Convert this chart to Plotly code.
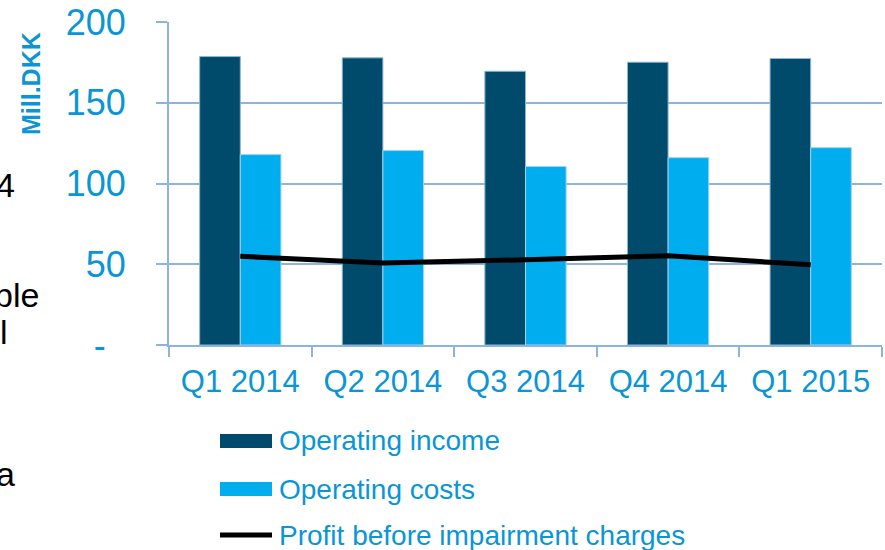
import plotly.graph_objects as go

categories = ["Q1 2014", "Q2 2014", "Q3 2014", "Q4 2014", "Q1 2015"]
operating_income = [178.6, 177.8, 169.5, 175.1, 177.4]
operating_costs = [117.9, 120.4, 110.5, 116.0, 122.2]
profit_before_impairment = [54.9, 50.8, 52.8, 55.3, 49.7]
y_tickvals = [0, 50, 100, 150, 200]
y_ticktext = ["-\u00a0\u00a0", "50", "100", "150", "200"]
legend_labels = ["Operating income", "Operating costs", "Profit before impairment charges"]

DARK = "#004B6B"
LIGHT = "#00AEEF"
GRID = "#8DB4DF"
TXT = "#0A96D6"
FONT = "Arial, Liberation Sans, sans-serif"

W, H = 885, 550
L, R, T, B = 169, 3, 22, 205
PW, PH = W - L - R, H - T - B


def px(x):
    return (x - L) / PW


def py(y):
    return (H - B - y) / PH


fig = go.Figure()
fig.add_trace(go.Bar(x=categories, y=operating_income, name=legend_labels[0],
                     marker=dict(color=DARK, line=dict(color="#8FB6CF", width=1))))
fig.add_trace(go.Bar(x=categories, y=operating_costs, name=legend_labels[1],
                     marker=dict(color=LIGHT, line=dict(color="#9FD3EE", width=1))))
fig.add_trace(go.Scatter(x=categories, y=profit_before_impairment, name=legend_labels[2],
                         mode="lines", line=dict(color="black", width=5)))

shapes = [
    dict(type="rect", xref="paper", yref="paper", x0=px(220), x1=px(272), y0=py(448), y1=py(434),
         fillcolor=DARK, line=dict(width=0)),
    dict(type="rect", xref="paper", yref="paper", x0=px(220), x1=px(272), y0=py(496), y1=py(482),
         fillcolor=LIGHT, line=dict(width=0)),
    dict(type="line", xref="paper", yref="paper", x0=px(220), x1=px(272), y0=py(535), y1=py(535),
         line=dict(color="black", width=5)),
]

annotations = []
for lab, yy in zip(legend_labels, [441, 489, 535]):
    annotations.append(dict(xref="paper", yref="paper", x=px(277), y=py(yy), text=lab,
                            showarrow=False, xanchor="left", yanchor="middle",
                            font=dict(size=28, color=TXT, family=FONT)))

annotations.append(dict(xref="paper", yref="paper", x=px(31), y=py(84), text="<b>Mill.DKK</b>",
                        showarrow=False, textangle=-90, xanchor="center", yanchor="middle",
                        font=dict(size=25, color=TXT, family=FONT)))

# fragments of slide text cut off at the left edge
for txt, xr, yy in [("4", 17, 185), ("ble", 41, 295), ("l", 10, 332), ("a", 17, 474)]:
    annotations.append(dict(xref="paper", yref="paper", x=px(xr), y=py(yy), text=txt,
                            showarrow=False, xanchor="right", yanchor="middle",
                            font=dict(size=34, color="black", family=FONT)))

fig.update_layout(
    width=W, height=H,
    margin=dict(l=L, r=R, t=T, b=B, pad=0),
    paper_bgcolor="white", plot_bgcolor="white",
    barmode="group", bargap=0.43, bargroupgap=0,
    showlegend=False,
    font=dict(family=FONT, color=TXT),
    shapes=shapes, annotations=annotations,
)
fig.update_xaxes(showgrid=False, showline=True, linecolor=GRID, linewidth=2,
                 ticks="outside", tickson="boundaries", ticklen=10, tickcolor=GRID, tickwidth=2,
                 tickfont=dict(size=31, color=TXT, family=FONT), ticklabelstandoff=8)
fig.update_yaxes(range=[0, 200], tickvals=y_tickvals, ticktext=y_ticktext,
                 showgrid=True, gridcolor=GRID, gridwidth=2,
                 showline=True, linecolor=GRID, linewidth=2, zeroline=False,
                 ticks="outside", ticklen=11, tickcolor=GRID, tickwidth=2,
                 tickfont=dict(size=36, color=TXT, family=FONT), ticklabelstandoff=23)

fig.write_html("out.html", config={"displayModeBar": False},
               post_script="document.body.style.margin='0';document.body.style.overflow='hidden';")
